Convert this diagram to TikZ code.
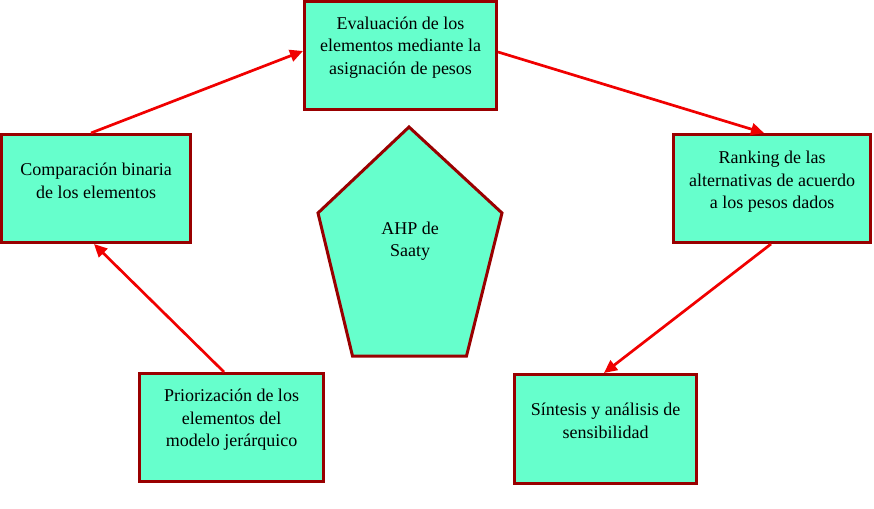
\documentclass[tikz,border=0pt]{standalone}
\usepackage{fontspec}
\setmainfont{Liberation Serif}
\usetikzlibrary{arrows.meta}
\definecolor{boxfill}{HTML}{66FFCC}
\definecolor{boxline}{HTML}{990000}
\definecolor{arrowred}{HTML}{F00000}
\tikzset{
  stepbox/.style={draw=boxline, fill=boxfill, line width=3pt, rectangle, inner sep=0pt},
  boxtext/.style={align=center, font=\fontsize{18}{22.5}\selectfont, inner sep=0pt},
  flow/.style={draw=arrowred, line width=2.7pt, -{Triangle[length=13pt,width=12pt]}}
}
\begin{document}
\begin{tikzpicture}[x=1pt,y=-1pt]
\useasboundingbox (0,0) rectangle (874,508);
% boxes
\node[stepbox, minimum width=192pt, minimum height=108pt] (b1) at (400.5,55.5) {};
\node[stepbox, minimum width=189pt, minimum height=108pt] (b2) at (96,188.5) {};
\node[stepbox, minimum width=197pt, minimum height=108pt] (b3) at (772,188.5) {};
\node[stepbox, minimum width=184pt, minimum height=108pt] (b4) at (231.5,427.5) {};
\node[stepbox, minimum width=182pt, minimum height=109pt] (b5) at (605.5,429) {};
% texts
\node[boxtext] (t1) at (400.5,47.5) {Evaluación de los\\elementos mediante la\\asignación de pesos};
\node[boxtext] (t2) at (96,181) {Comparación binaria\\de los elementos};
\node[boxtext] (t3) at (772,182) {Ranking de las\\alternativas de acuerdo\\a los pesos dados};
\node[boxtext] (t4) at (231.5,420) {Priorización de los\\elementos del\\modelo jerárquico};
\node[boxtext] (t5) at (605.5,421) {Síntesis y análisis de\\sensibilidad};
% pentagon
\draw[draw=boxline, fill=boxfill, line width=3pt, line join=miter]
  (409,127) -- (502,213) -- (466.5,356) -- (352.5,356) -- (318,213) -- cycle;
\node[boxtext] (t6) at (410,241) {AHP de\\Saaty};
% arrows
\draw[flow] ([xshift=-5pt]b2.north) -- ([yshift=4.5pt]b1.west);
\draw[flow] ([yshift=3.5pt]b1.east) -- ([xshift=-8pt]b3.north);
\draw[flow] ([xshift=-1pt]b3.south) -- ([xshift=-1.5pt]b5.north);
\draw[flow] ([xshift=-7.5pt]b4.north) -- ([xshift=-2pt]b2.south);
\end{tikzpicture}
\end{document}
